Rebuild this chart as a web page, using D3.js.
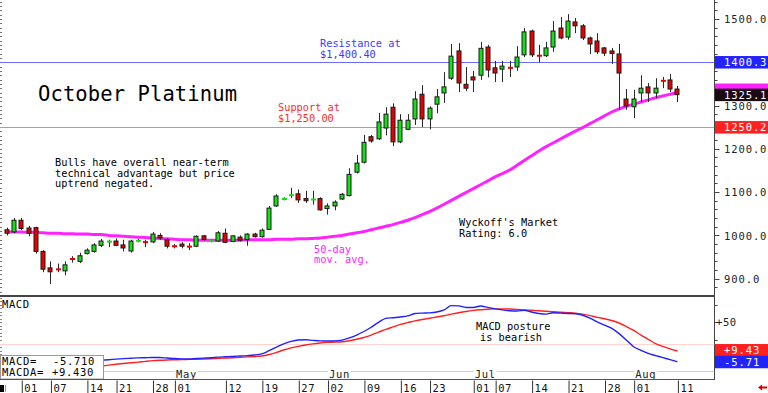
<!DOCTYPE html>
<html><head><meta charset="utf-8">
<script src="https://cdn.jsdelivr.net/npm/d3@7"></script>
<style>
html,body{margin:0;padding:0;background:#fff;overflow:hidden}
svg{display:block;background:#fff}
text{font-family:"DejaVu Sans Mono",monospace}
</style></head><body>
<svg id="c" width="768" height="393"></svg>
<script>
// ---------- DATA ----------
const dates = ["03-28","03-31","04-01","04-02","04-03","04-04","04-07","04-08","04-09","04-10","04-11","04-14","04-15","04-16","04-17","04-21","04-22","04-23","04-24","04-25","04-28","04-29","04-30","05-01","05-02","05-05","05-06","05-07","05-08","05-09","05-12","05-13","05-14","05-15","05-16","05-19","05-20","05-21","05-22","05-23","05-27","05-28","05-29","05-30","06-02","06-03","06-04","06-05","06-06","06-09","06-10","06-11","06-12","06-13","06-16","06-17","06-18","06-20","06-23","06-24","06-25","06-26","06-27","06-30","07-01","07-02","07-03","07-07","07-08","07-09","07-10","07-11","07-14","07-15","07-16","07-17","07-18","07-21","07-22","07-23","07-24","07-25","07-28","07-29","07-30","07-31","08-01","08-04","08-05","08-06","08-07","08-08","08-11"];
const openP = [1013,1008,1035,1017,1018,963,925,923,918,947, 940,958,963,977,984,987,978,964,986,986, 985,1000,990,976,980,975,975,999,986,987, 1005,986,996,990,1003,997,1014,1068,1083,1092, 1096,1085,1082,1085,1062,1068,1084,1092,1146,1169, 1228,1223,1248,1296,1216,1245,1269,1326,1269,1303, 1329,1363,1426,1349,1366,1370,1435,1387,1384,1388, 1389,1417,1472,1416,1415,1435,1479,1458,1493,1484, 1456,1449,1433,1426,1419,1315,1297,1329,1343,1329, 1358,1359,1338];
const highP = [1018,1040,1040,1022,1020,966,940,935,940,952, 960,970,982,992,990,993,990,990,992,990, 1008,1005,993,980,984,982,1000,1001,990,1010, 1016,1000,1000,1005,1006,1016,1068,1095,1088,1110, 1106,1103,1103,1088,1074,1081,1098,1155,1186,1232, 1232,1283,1296,1305,1280,1280,1333,1347,1298,1338, 1377,1442,1444,1389,1380,1447,1440,1403,1403,1403, 1437,1479,1475,1440,1447,1495,1504,1511,1502,1488, 1459,1467,1435,1433,1442,1338,1336,1370,1352,1363, 1366,1373,1345];
const lowP = [1000,1005,1012,998,958,915,888,915,908,937, 936,956,960,973,973,975,963,960,984,973, 982,990,970,970,970,966,973,988,984,985, 982,984,986,976,995,995,1013,1066,1081,1086, 1075,1075,1071,1057,1048,1058,1082,1090,1143,1166, 1214,1221,1231,1206,1213,1243,1255,1250,1245,1282, 1306,1359,1331,1333,1331,1359,1365,1354,1354,1366, 1380,1412,1412,1400,1412,1424,1453,1452,1467,1451, 1419,1419,1414,1396,1290,1290,1271,1308,1308,1317, 1340,1331,1308];
const closeP = [1005,1035,1016,1005,963,922,916,920,932,944, 953,966,978,987,987,977,971,987,989,983, 1003,994,975,974,975,973,998,991,988,1006, 984,999,989,1003,997,1012,1063,1091,1085,1094, 1082,1080,1084,1059,1068,1077,1095,1141,1167,1215, 1218,1262,1280,1216,1266,1266,1315,1269,1294,1320, 1343,1414,1352,1340,1359,1432,1382,1375,1391,1386, 1412,1470,1417,1414,1433,1472,1456,1495,1484,1456, 1442,1424,1421,1420,1375,1299,1315,1340,1329,1340, 1356,1338,1325.1];
const ma50 = [1008,1008,1008,1007,1007,1006,1005,1005,1004,1004, 1003,1003,1002,1002,1000,999,998,997,996,995, 994,993,992,991,990,990,989,989,989,989, 989,989,989,990,990,990,990,991,991,991, 992,992,993,994,996,998,1000,1003,1006,1009, 1013,1017,1021,1025,1030,1035,1041,1048,1055,1063, 1072,1081,1090,1099,1108,1117,1126,1135,1143,1151, 1162,1173,1184,1195,1205,1214,1223,1232,1241,1249, 1258,1267,1276,1285,1292,1298,1303,1308,1313,1318, 1322,1326,1330];
// MACD series start at dates[12] (04-14)
const macdDates = dates.slice(12);
const macdLine = [-4,-3.5,-2.8,-2,-1.3,-0.8,-0.3,0,0.3,0.2, -0.5,-1.2,-1.6,-1.8,-1.2,-0.6,0,0.8,1.3,1.8, 2.4,3,3.8,5.5,10,15,19.5,23,25,25.3, 24.5,23.8,23.5,23.6,24.8,28,32,37,43,50, 55.5,56.5,57.5,59,62.5,63,63.3,64.5,67.5,73.5, 73.2,71,71,73,71,69,67.5,66.3,66,67, 64.5,62.5,61.5,63.5,63,62.5,62,60,56,50.5, 46,41.5,34,25,15.5,10.5,6,3,0.2,-2.8, -5.71];
const signalLine = [-13,-11.8,-10.5,-9.3,-8.2,-7.2,-6.3,-5.2,-4.2,-3.6, -3.2,-2.9,-2.6,-2.4,-2.2,-1.9,-1.5,-1,-0.5,0, 0.6,1.1,1.7,2.4,4.5,7.5,10.9,13.8,16,18, 19.6,20.8,21.6,22,22.5,24,26,28.5,32,36, 40,43.5,47,49.5,52,54,55.7,57.5,59.2,61.5, 63.5,65.3,66.8,67.8,68.5,68.9,69,68.8,68.3,67.5, 67,66.3,65.6,65,64.2,63.6,62.9,61.5,59.5,57, 55,52.5,49,44,38.5,32,26,20,16,12.5, 9.43];
const priceTicks = [900,1000,1100,1200,1300,1400,1500];
const macdTicks = [0,25,50,75];
const macdTickLabels = {50:"+50"};
const dayTicks = ["04-01","04-07","04-14","04-21","04-28","05-01","05-12","05-19","05-27","06-02","06-09","06-16","06-23","07-01","07-07","07-14","07-21","07-28","08-01","08-11"];
const monthTicks = ["05-01","06-02","07-01","08-01"];
const monthLabels = ["May","Jun","Jul","Aug"];
const resistance = 1400.4, resistanceLabel = "1400.3";
const support = 1250.2, supportLabel = "1250.2";
const lastLabel = "1325.1";
const macdRefLines = [19, -19];

// ---------- LAYOUT ----------
const svg = d3.select("#c");
const plotRight = 714.5;
const x = d3.scalePoint().domain(dates).range([6.7, 677.4]);
const y = d3.scaleLinear().domain([900, 1500]).range([278.7, 18.9]);
const ym = d3.scaleLinear().domain([0, 50]).range([357.7, 322.3]);
const GREEN = "#14e014", RED = "#e80000", MAG = "#ff22ff";

svg.append("defs").call(d => {
  d.append("clipPath").attr("id","cp").append("rect").attr("x",0).attr("y",0).attr("width",plotRight).attr("height",295);
  d.append("clipPath").attr("id","cm").append("rect").attr("x",0).attr("y",297).attr("width",plotRight).attr("height",82);
});

// ---------- PRICE PANEL ----------
const gp = svg.append("g").attr("clip-path","url(#cp)");
// left dotted ticks
gp.selectAll("line.lt").data(d3.range(860, 1550, 10)).join("line")
  .attr("x1",0).attr("x2",2).attr("y1",d=>Math.round(y(d))+0.5).attr("y2",d=>Math.round(y(d))+0.5)
  .attr("stroke","#777").attr("stroke-width",1);
// resistance/support
gp.append("line").attr("x1",0).attr("x2",plotRight).attr("y1",Math.round(y(resistance))+0.5).attr("y2",Math.round(y(resistance))+0.5).attr("stroke","#6b6bff");
gp.append("line").attr("x1",0).attr("x2",plotRight).attr("y1",Math.round(y(support))+0.5).attr("y2",Math.round(y(support))+0.5).attr("stroke","#ff7b7b");
// 50-day MA
gp.append("path").datum(dates.map((d,i)=>[d, ma50[i]]))
  .attr("d", d3.line().x(d=>x(d[0])).y(d=>y(d[1])).curve(d3.curveMonotoneX))
  .attr("fill","none").attr("stroke",MAG).attr("stroke-width",3);
// candles
const cd = dates.map((d,i)=>({d, o:openP[i], h:highP[i], l:lowP[i], c:closeP[i]}));
const cg = gp.selectAll("g.cdl").data(cd).join("g");
cg.append("line").attr("x1",d=>Math.round(x(d.d))+0.5).attr("x2",d=>Math.round(x(d.d))+0.5)
  .attr("y1",d=>y(d.h)).attr("y2",d=>y(d.l)).attr("stroke","#2a2a2a").attr("stroke-width",1);
cg.append("rect")
  .attr("x",d=>Math.round(x(d.d))-2)
  .attr("width",d=>Math.abs(d.c-d.o)<=3?5:4)
  .attr("y",d=>Math.abs(d.c-d.o)<=3 ? y((d.o+d.c)/2)-1 : y(Math.max(d.o,d.c)))
  .attr("height",d=>Math.abs(d.c-d.o)<=3 ? 2 : Math.abs(y(d.o)-y(d.c)))
  .attr("fill",d=>d.c>=d.o?GREEN:RED)
  .attr("stroke",d=>Math.abs(d.c-d.o)<=3?"none":"#1a1a1a").attr("stroke-width",1);

// texts in price panel
const T = (t,xx,yy,size,fill,ls) => svg.append("text").attr("x",xx).attr("y",yy)
  .attr("font-size",size).attr("fill",fill||"#000").attr("letter-spacing",ls||0).text(t);
T("October Platinum",38,101,"20.5px","#000",0.1);
T("Resistance at",320,47,"10.3px","#3a3aff");
T("$1,400.40",320,57.5,"10.3px","#3a3aff");
T("Support at",278,111,"10.3px","#ff2a2a");
T("$1,250.00",278,121.5,"10.3px","#ff2a2a");
T("Bulls have overall near-term",55,166,"10.3px");
T("technical advantage but price",55,176.5,"10.3px");
T("uptrend negated.",55,187,"10.3px");
T("Wyckoff's Market",459,226,"10.3px");
T("Rating: 6.0",459,236.5,"10.3px");
T("50-day",314,252.5,"10.3px",MAG);
T("mov. avg.",314,263,"10.3px",MAG);

// panel separator
svg.append("rect").attr("x",0).attr("y",295).attr("width",plotRight).attr("height",2).attr("fill","#444");

// right price axis
const ra = svg.append("g");
ra.append("line").attr("x1",plotRight).attr("x2",plotRight).attr("y1",0).attr("y2",380).attr("stroke","#444");
ra.selectAll("line.mn").data(d3.range(880, 1541, 20)).join("line")
  .attr("x1",plotRight).attr("x2",d=>plotRight+(d%100===0?5:3))
  .attr("y1",d=>Math.round(y(d))+0.5).attr("y2",d=>Math.round(y(d))+0.5).attr("stroke","#444");
const axR = d3.axisRight(y).tickValues(priceTicks).tickFormat(d3.format(".1f")).tickSize(0).tickPadding(0);
const axg = svg.append("g").attr("transform",`translate(724,0)`).call(axR);
axg.select(".domain").remove();
axg.selectAll("text").attr("font-size","10.5px").attr("letter-spacing",0.9).attr("fill","#222")
  .attr("font-family","DejaVu Sans Mono").attr("x",0).attr("dy","0.36em");

// label boxes on right
function box(val, scale, txt, bg, fg, off){
  const cy = scale(val) + (off||0);
  svg.append("rect").attr("x",715).attr("y",cy-6).attr("width",53).attr("height",12.5).attr("fill",bg);
  if (txt) svg.append("text").attr("x",724).attr("y",cy+4).attr("font-size","10.5px").attr("letter-spacing",0.9)
    .attr("fill",fg).text(txt);
}
box(resistance, y, resistanceLabel, "#2323ff", "#fff");
box(ma50[ma50.length-1], y, "", MAG, "#fff", -3);
box(closeP[closeP.length-1], y, lastLabel, "#1a0a14", "#fff");
box(support, y, supportLabel, "#ff2020", "#fff");

// ---------- MACD PANEL ----------
const gm = svg.append("g").attr("clip-path","url(#cm)");
gm.selectAll("line.ml").data(d3.range(-30, 90, 5)).join("line")
  .attr("x1",0).attr("x2",2).attr("y1",d=>Math.round(ym(d))+0.5).attr("y2",d=>Math.round(ym(d))+0.5).attr("stroke","#888");
gm.append("line").attr("x1",0).attr("x2",plotRight).attr("y1",Math.round(ym(macdRefLines[0]))+0.5).attr("y2",Math.round(ym(macdRefLines[0]))+0.5).attr("stroke","#ffd2d2");
gm.append("line").attr("x1",0).attr("x2",plotRight).attr("y1",Math.round(ym(macdRefLines[1]))+0.5).attr("y2",Math.round(ym(macdRefLines[1]))+0.5).attr("stroke","#c9c9ff");
const ml = d3.line().x((d,i)=>x(macdDates[i])).y(d=>ym(d)).curve(d3.curveMonotoneX);
gm.append("path").datum(signalLine).attr("d",ml).attr("fill","none").attr("stroke","#ff2020").attr("stroke-width",1.4);
gm.append("path").datum(macdLine).attr("d",ml).attr("fill","none").attr("stroke","#2020ff").attr("stroke-width",1.4);

T("MACD",2,307.5,"10.5px","#000",0.6);
T("MACD posture",476,329.5,"10.3px");
T("is bearish",480,340.5,"10.3px");

// MACD right ticks
svg.selectAll("line.mt").data(macdTicks).join("line")
  .attr("x1",plotRight).attr("x2",plotRight+3).attr("y1",d=>Math.round(ym(d))+0.5).attr("y2",d=>Math.round(ym(d))+0.5).attr("stroke","#444");
svg.selectAll("text.mtl").data(macdTicks.filter(d=>macdTickLabels[d])).join("text")
  .attr("x",716).attr("y",d=>ym(d)+4).attr("font-size","10.5px").attr("letter-spacing",0.6).attr("fill","#222")
  .text(d=>macdTickLabels[d]);
box(signalLine[signalLine.length-1], ym, "+9.43", "#ff2020", "#fff", -1);
box(macdLine[macdLine.length-1], ym, "-5.71", "#2323ff", "#fff");

// month labels with white background
monthTicks.forEach((d,i)=>{
  const t = svg.append("text").attr("x",x(d)+1.5).attr("y",377.5).attr("font-size","10.5px").attr("letter-spacing",0.7).attr("fill","#222").text(monthLabels[i]);
  const bb = t.node().getBBox();
  svg.insert("rect", () => t.node()).attr("x",bb.x-1).attr("y",368).attr("width",bb.width+2).attr("height",11).attr("fill","#fff");
});

// legend box
svg.append("rect").attr("x",0.5).attr("y",355.5).attr("width",103).attr("height",23.5).attr("fill","#fff").attr("stroke","#999");
T("MACD=",2,364.8,"10.5px","#000",0.7);
T(d3.format(".3f")(macdLine[macdLine.length-1]).replace("−","-"),53,364.8,"10.5px","#000",0.7);
T("MACDA=",2,376,"10.5px","#000",0.7);
T("+"+d3.format(".3f")(signalLine[signalLine.length-1]),52,376,"10.5px","#000",0.7);

// bottom date axis
svg.append("line").attr("x1",0).attr("x2",plotRight).attr("y1",379.5).attr("y2",379.5).attr("stroke","#555");
const axB = d3.axisBottom(x).tickValues(dayTicks).tickFormat(d=>d.slice(3)).tickSize(13).tickPadding(0);
const bx = svg.append("g").attr("transform","translate(0,380.5)").call(axB);
bx.select(".domain").remove();
bx.selectAll(".tick line").attr("stroke","#333").attr("transform","translate(0.5,0)");
bx.selectAll(".tick text").attr("font-size","10.5px").attr("font-family","DejaVu Sans Mono").attr("fill","#111")
  .attr("text-anchor","start").attr("x",2.5).attr("y",11.5).attr("dy",0).attr("letter-spacing",0.5);

// small marks bottom corners
svg.append("rect").attr("x",0).attr("y",385).attr("width",4).attr("height",7).attr("fill","#000");
svg.append("line").attr("x1",5.5).attr("x2",5.5).attr("y1",385).attr("y2",392).attr("stroke","#999");
svg.append("path").attr("d","M758,387.5 L762,384.5 L762,386.5 L767,386.5 L767,388.5 L762,388.5 L762,390.5 Z").attr("fill","#e00000");
</script>
</body></html>
